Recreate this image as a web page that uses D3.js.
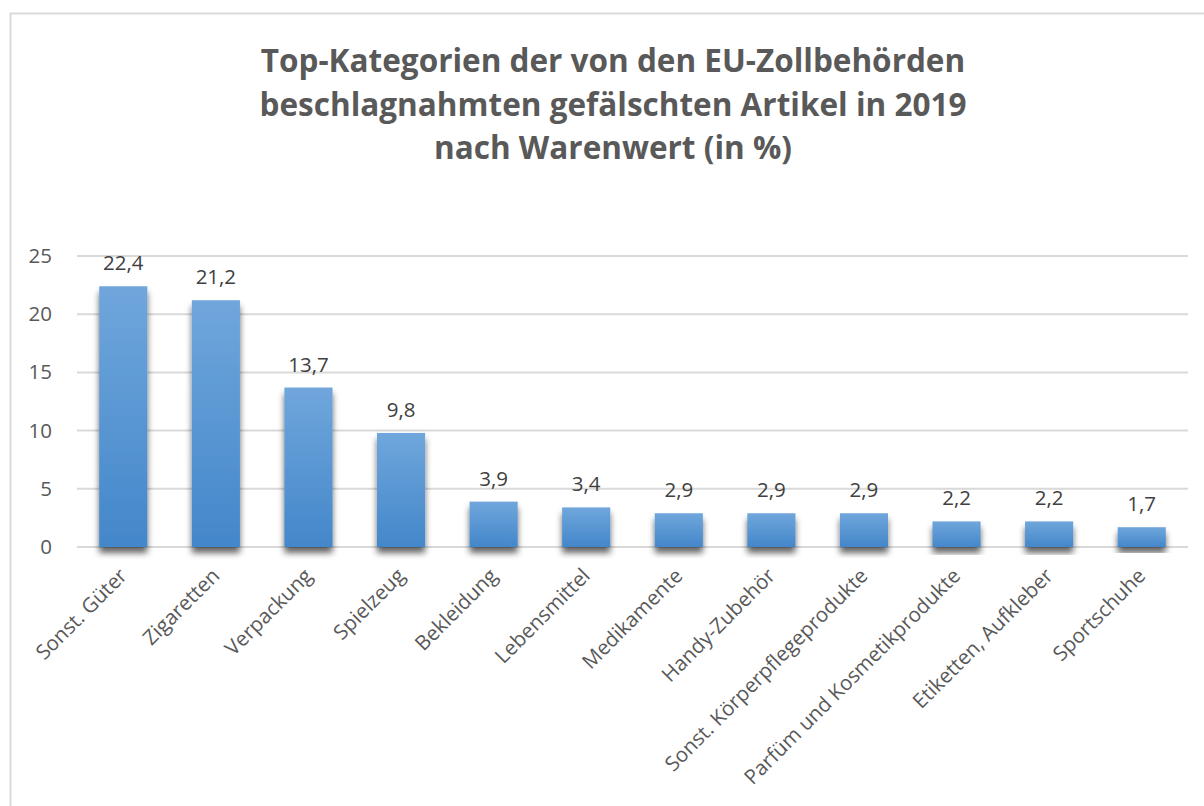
<!DOCTYPE html>
<html>
<head>
<meta charset="utf-8">
<script src="https://cdn.jsdelivr.net/npm/d3@7"></script>
<style>
  body { margin: 0; background: #fff; }
  text { font-family: "Open Sans", "Liberation Sans", sans-serif; }
</style>
</head>
<body>
<div class="chart"></div>
<script>
// Daten
const categories = ['Sonst. Güter', 'Zigaretten', 'Verpackung', 'Spielzeug', 'Bekleidung', 'Lebensmittel',
  'Medikamente', 'Handy-Zubehör', 'Sonst. Körperpflegeprodukte', 'Parfüm und Kosmetikprodukte',
  'Etiketten, Aufkleber', 'Sportschuhe']
const values = [22.4, 21.2, 13.7, 9.8, 3.9, 3.4, 2.9, 2.9, 2.9, 2.2, 2.2, 1.7]
const yTicks = [0, 5, 10, 15, 20, 25]
const titleLines = ['Top-Kategorien der von den EU-Zollbehörden',
  'beschlagnahmten gefälschten Artikel in 2019', 'nach Warenwert (in %)']

const width = 1204, height = 806
const margin = {left: 77, right: 16, top: 256, bottom: 259}

const svg = d3.select('.chart').append('svg').attr('width', width).attr('height', height)

// Rahmen
svg.append('rect').attr('x', 10.5).attr('y', 13.5).attr('width', 1400).attr('height', 1000)
  .attr('fill', '#fff').attr('stroke', '#d9d9d9').attr('stroke-width', 2)

const defs = svg.append('defs')
const grad = defs.append('linearGradient').attr('id', 'barGrad').attr('x1', 0).attr('y1', 0).attr('x2', 0).attr('y2', 1)
grad.append('stop').attr('offset', '0%').attr('stop-color', '#70a6dc')
grad.append('stop').attr('offset', '100%').attr('stop-color', '#4387ca')
const shadow = defs.append('filter').attr('id', 'shadow').attr('x', '-30%').attr('y', '-30%').attr('width', '160%').attr('height', '160%')
shadow.append('feDropShadow').attr('dx', 0).attr('dy', 6).attr('stdDeviation', 3)
  .attr('flood-color', '#000').attr('flood-opacity', 0.6)

// Titel
svg.append('text').attr('text-anchor', 'middle')
  .style('font-size', '31.5px').style('font-weight', 'bold').attr('fill', '#595959')
  .selectAll('tspan').data(titleLines).join('tspan')
  .attr('x', 613).attr('y', (d, i) => 72 + i * 43.5).text(d => d)

const x = d3.scaleBand().domain(categories).range([margin.left, width - margin.right]).paddingInner(0.48).paddingOuter(0.24)
const y = d3.scaleLinear().domain([0, 25]).range([height - margin.bottom, margin.top])

// Gitterlinien
svg.append('g').selectAll('line').data(yTicks).join('line')
  .attr('x1', margin.left).attr('x2', width - margin.right)
  .attr('y1', d => y(d)).attr('y2', d => y(d))
  .attr('stroke', '#d9d9d9').attr('stroke-width', 2)

const yAxis = d3.axisLeft(y).tickValues(yTicks).tickSize(0).tickPadding(0)
const yAxisG = svg.append('g').attr('transform', `translate(52,0)`).call(yAxis)
yAxisG.select('.domain').remove()
yAxisG.selectAll('text').style('font-size', '20.5px').attr('fill', '#595959')
  .style('font-family', '"Open Sans", sans-serif')

// Balken
svg.append('g').selectAll('rect').data(values).join('rect')
  .attr('x', (d, i) => x(categories[i]))
  .attr('y', d => y(d))
  .attr('width', x.bandwidth())
  .attr('height', d => y(0) - y(d))
  .attr('fill', 'url(#barGrad)')
  .attr('filter', 'url(#shadow)')

// Werte
svg.append('g').selectAll('text').data(values).join('text')
  .attr('x', (d, i) => x(categories[i]) + x.bandwidth() / 2)
  .attr('y', d => y(d) - 16)
  .attr('text-anchor', 'middle')
  .style('font-size', '20.5px').attr('fill', '#404040')
  .text(d => d3.format('.1f')(d).replace('.', ','))

// Kategorien
svg.append('g').selectAll('text').data(categories).join('text')
  .attr('transform', d => `translate(${x(d) + x.bandwidth() / 2 + 5},${y(0) + 30}) rotate(-45)`)
  .attr('text-anchor', 'end')
  .style('font-size', '20.5px').attr('fill', '#595959')
  .text(d => d)
</script>
</body>
</html>
